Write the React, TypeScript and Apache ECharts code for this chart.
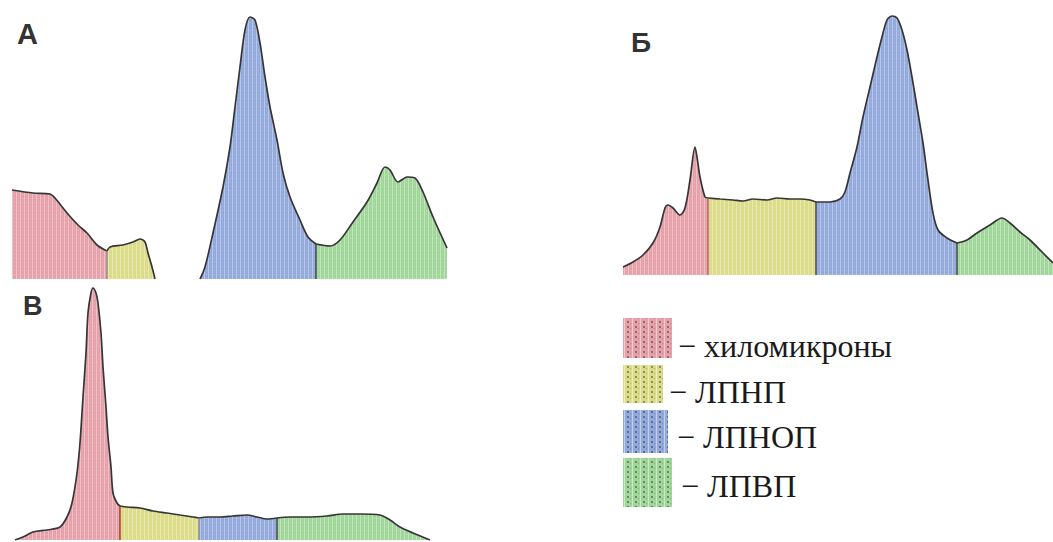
import React, { useEffect, useRef } from "react";
import * as echarts from "echarts";

// ---- data (x: migration distance units, y: optical density units) ----
const fractions = ["хиломикроны", "ЛПНП", "ЛПНОП", "ЛПВП"];
const panelLabels = ["А", "Б", "В"];

const aChylo = [[0, 89], [21, 86], [38, 85], [43, 81], [55, 66], [66, 54], [75, 46], [85, 34], [95, 28]];
const aLdl = [[95, 28], [98, 32], [111, 34], [121, 37], [128, 40], [133, 37], [136, 26], [140, 12], [143, 0]];
const aVldl = [[188, 0], [193, 12], [201, 46], [211, 92], [218, 132], [223, 172], [228, 212], [233, 249], [238, 262], [243, 259], [248, 236], [253, 202], [258, 172], [265, 139], [271, 106], [278, 82], [288, 59], [296, 42], [304, 35]];
const aHdl = [[304, 35], [318, 33], [328, 39], [341, 57], [355, 77], [365, 96], [373, 112], [378, 109], [386, 97], [395, 102], [403, 101], [411, 87], [421, 62], [435, 31]];

const bChylo = [[0, 8], [10, 13], [20, 20], [30, 32], [37, 48], [42, 67], [45, 70], [50, 67], [57, 60], [62, 67], [67, 95], [72, 128], [74, 118], [77, 98], [82, 78], [85, 77]];
const bLdl = [[85, 77], [97, 76], [110, 75], [120, 74], [130, 76], [144, 75], [154, 77], [167, 76], [177, 76], [187, 75], [193, 73]];
const bVldl = [[193, 73], [207, 73], [217, 76], [222, 83], [227, 102], [234, 128], [240, 158], [247, 188], [254, 218], [259, 238], [264, 255], [269, 259], [274, 257], [279, 245], [284, 225], [289, 198], [294, 168], [300, 132], [305, 95], [310, 62], [315, 45], [324, 37], [334, 32]];
const bHdl = [[334, 32], [344, 35], [354, 42], [367, 50], [379, 57], [387, 52], [397, 43], [407, 35], [420, 22], [430, 12]];

const vChylo = [[0, 0], [8, 3], [18, 8], [32, 10], [45, 13], [52, 23], [57, 37], [62, 67], [65, 97], [68, 143], [71, 187], [73, 227], [76, 247], [78, 252], [81, 247], [83, 237], [86, 207], [88, 173], [91, 133], [93, 103], [96, 73], [98, 47], [102, 37], [105, 34]];
const vLdl = [[105, 34], [112, 33], [125, 32], [138, 29], [152, 27], [165, 25], [178, 23], [184, 22]];
const vVldl = [[184, 22], [192, 23], [205, 23], [218, 24], [232, 25], [242, 23], [252, 21], [262, 22]];
const vHdl = [[262, 22], [275, 23], [292, 23], [312, 24], [328, 26], [345, 26], [365, 25], [375, 20], [385, 13], [398, 7], [415, 0]];

const panelA = [aChylo, aLdl, aVldl, aHdl];
const panelB = [bChylo, bLdl, bVldl, bHdl];
const panelV = [vChylo, vLdl, vVldl, vHdl];

// ---- layout / style ----
const panels = [
  { segs: panelA, grid: { left: 12, top: 0, width: 436, height: 279 }, label: { x: 17, y: 34, size: 29 }, divColors: ["#888", "#333", "#333"] },
  { segs: panelB, grid: { left: 623, top: 0, width: 430, height: 275 }, label: { x: 631, y: 42, size: 28 }, divColors: ["#b55", "#333", "#333"] },
  { segs: panelV, grid: { left: 15, top: 280, width: 420, height: 260 }, label: { x: 23, y: 306, size: 27 }, divColors: ["#a22", "#888", "#333"] },
];
const fillColors = ["#e6a0aa", "#dcdc88", "#93a9dc", "#a0d699"];
const legendBoxes = [
  { x: 623, y: 318, w: 49, h: 40, tx: 678, ty: 346 },
  { x: 623, y: 365, w: 40, h: 38, tx: 669, ty: 392 },
  { x: 623, y: 410, w: 45, h: 43, tx: 677, ty: 437 },
  { x: 623, y: 458, w: 49, h: 49, tx: 681, ty: 486 },
];

function makePattern(hex: string, legend: boolean) {
  const w = legend ? 8 : 4;
  const h = legend ? 5 : 4;
  const c = document.createElement("canvas");
  c.width = w;
  c.height = h;
  const ctx = c.getContext("2d")!;
  ctx.fillStyle = hex;
  ctx.fillRect(0, 0, w, h);
  if (legend) {
    ctx.fillStyle = "rgba(255,255,255,0.45)";
    ctx.fillRect(0, 0, 1, h);
    ctx.fillStyle = "rgba(0,0,0,0.35)";
    ctx.fillRect(3, 1, 2, 2);
    ctx.fillStyle = "rgba(0,0,0,0.18)";
    ctx.fillRect(6, 3, 1, 1);
  } else {
    ctx.fillStyle = "rgba(255,255,255,0.35)";
    ctx.fillRect(0, 0, 1, h);
    ctx.fillStyle = "rgba(255,255,255,0.22)";
    ctx.fillRect(2, 2, 1, 1);
  }
  return { image: c.toDataURL(), repeat: "repeat", imageWidth: w, imageHeight: h };
}

export default function App() {
  const ref = useRef<HTMLDivElement>(null);
  useEffect(() => {
    if (!ref.current) return;
    const chart = echarts.init(ref.current, null, { renderer: "svg" });
    const fillPatterns = fillColors.map((c) => makePattern(c, false));
    const legendPatterns = fillColors.map((c) => makePattern(c, true));

    const grid: any[] = [];
    const xAxis: any[] = [];
    const yAxis: any[] = [];
    const series: any[] = [];
    const graphic: any[] = [];

    panels.forEach((p, pi) => {
      grid.push({ ...p.grid, containLabel: false });
      xAxis.push({ type: "value", gridIndex: pi, min: 0, max: p.grid.width, show: false });
      yAxis.push({ type: "value", gridIndex: pi, min: 0, max: p.grid.height, show: false, splitLine: { show: false } });
      p.segs.forEach((seg, si) => {
        series.push({
          type: "line",
          name: fractions[si],
          xAxisIndex: pi,
          yAxisIndex: pi,
          data: seg,
          smooth: 0.3,
          symbol: "none",
          showSymbol: false,
          lineStyle: { color: "#363636", width: 1.7 },
          areaStyle: { color: fillPatterns[si], opacity: 1 },
          silent: true,
          z: 2,
        });
        if (si > 0) {
          const prev = p.segs[si - 1];
          const last = prev[prev.length - 1];
          const first = seg[0];
          if (last[0] === first[0] && first[1] > 0) {
            series.push({
              type: "line",
              xAxisIndex: pi,
              yAxisIndex: pi,
              data: [[first[0], 0], [first[0], first[1]]],
              symbol: "none",
              lineStyle: { color: p.divColors[si - 1], width: 1.3 },
              silent: true,
              z: 3,
            });
          }
        }
      });
      graphic.push({
        type: "text",
        x: p.label.x,
        y: p.label.y,
        style: {
          text: panelLabels[pi],
          fill: "#333333",
          fontFamily: "Liberation Sans, Arial, sans-serif",
          fontSize: p.label.size,
          fontWeight: "bold",
          verticalAlign: "middle",
          align: "left",
        },
        silent: true,
      });
    });

    legendBoxes.forEach((b, i) => {
      graphic.push({
        type: "rect",
        shape: { x: b.x, y: b.y, width: b.w, height: b.h },
        style: { fill: legendPatterns[i] },
        silent: true,
      });
      graphic.push({
        type: "text",
        x: b.tx,
        y: b.ty,
        style: {
          text: "− " + fractions[i],
          fill: "#1a1a1a",
          fontFamily: "'Times New Roman', 'Liberation Serif', serif",
          fontSize: 32,
          verticalAlign: "middle",
          align: "left",
        },
        silent: true,
      });
    });

    chart.setOption({
      animation: false,
      backgroundColor: "#ffffff",
      grid,
      xAxis,
      yAxis,
      series,
      graphic: { elements: graphic },
    });
    return () => chart.dispose();
  }, []);
  return <div ref={ref} style={{ position: "fixed", left: 0, top: 0, width: 1053, height: 542 }} />;
}
